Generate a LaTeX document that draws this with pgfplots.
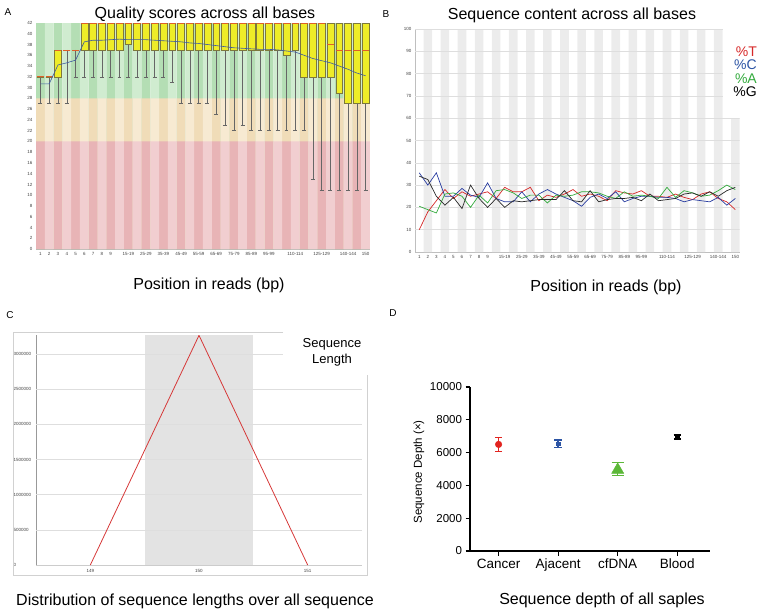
\documentclass[border=0pt]{standalone}
\usepackage{fontspec}
\setmainfont{Liberation Sans}
\usepackage{pgfplots}
\pgfplotsset{compat=1.18}
\usepgfplotslibrary{statistics}

\definecolor{gdark}{RGB}{180,222,180}
\definecolor{glight}{RGB}{208,236,208}
\definecolor{odark}{RGB}{240,220,184}
\definecolor{olight}{RGB}{247,234,210}
\definecolor{rdark}{RGB}{232,180,182}
\definecolor{rlight}{RGB}{241,206,208}
\definecolor{boxy}{RGB}{238,236,40}
\definecolor{boxedge}{RGB}{125,120,60}
\definecolor{medc}{RGB}{222,96,40}
\definecolor{meanc}{RGB}{60,90,160}
\definecolor{tred}{RGB}{214,40,40}
\definecolor{cblue}{RGB}{40,60,160}
\definecolor{agreen}{RGB}{50,170,60}
\definecolor{gblack}{RGB}{40,40,40}
\definecolor{stripe}{RGB}{236,236,236}
\definecolor{gridc}{RGB}{222,222,222}
\definecolor{dred}{RGB}{226,36,32}
\definecolor{dblue}{RGB}{44,84,164}
\definecolor{dgreen}{RGB}{92,184,56}

\pgfplotsset{
  qbox/.style={draw=boxedge, line width=0.5pt,
    boxplot/draw direction=y,
    boxplot/box extend=0.78, boxplot/whisker extend=0.45,
    boxplot/every box/.style={fill=boxy, draw=boxedge},
    boxplot/every median/.style={draw=medc, line width=0.7pt},
    boxplot/every whisker/.style={draw=black!60, line width=0.5pt}},
  tinylab/.style={tick label style={font=\fontsize{4.5}{5}\selectfont, text=black!75},
    /pgf/number format/assume math mode=true},
}
% position, lower whisker, lower quartile, median, upper quartile, upper whisker
\newcommand\qbox[6]{\addplot[qbox, boxplot prepared={draw position=#1,
  lower whisker=#2, lower quartile=#3, median=#4, upper quartile=#5, upper whisker=#6}] coordinates {};}

\begin{document}
\begin{tikzpicture}
\useasboundingbox (0pt,0pt) rectangle (764pt,-613pt);

%% ---------------- A: quality scores
\begin{axis}[
  at={(36pt,-249pt)}, anchor=south west, scale only axis,
  width=334pt, height=226pt,
  xmin=0.5, xmax=38.5, ymin=0, ymax=42,
  axis x line*=bottom, axis y line*=left,
  axis line style={-, draw=black!30, line width=0.4pt},
  major tick length=0pt, tinylab,
  ytick={0,2,...,42},
  xtick={1,2,3,4,5,6,7,8,9,11,13,15,17,19,21,23,25,27,30,33,36,38},
  xticklabels={1,2,3,4,5,6,7,8,9,15-19,25-29,35-39,45-49,55-59,65-69,75-79,85-89,95-99,110-114,125-129,140-144,150},
]
% background bands
\addplot[ybar, bar width=1, bar shift=0pt, fill=gdark, draw=none] coordinates {(1,42)(3,42)(5,42)(7,42)(9,42)(11,42)(13,42)(15,42)(17,42)(19,42)(21,42)(23,42)(25,42)(27,42)(29,42)(31,42)(33,42)(35,42)(37,42)};
\addplot[ybar, bar width=1, bar shift=0pt, fill=glight, draw=none] coordinates {(2,42)(4,42)(6,42)(8,42)(10,42)(12,42)(14,42)(16,42)(18,42)(20,42)(22,42)(24,42)(26,42)(28,42)(30,42)(32,42)(34,42)(36,42)(38,42)};
\addplot[ybar, bar width=1, bar shift=0pt, fill=odark, draw=none] coordinates {(1,28)(3,28)(5,28)(7,28)(9,28)(11,28)(13,28)(15,28)(17,28)(19,28)(21,28)(23,28)(25,28)(27,28)(29,28)(31,28)(33,28)(35,28)(37,28)};
\addplot[ybar, bar width=1, bar shift=0pt, fill=olight, draw=none] coordinates {(2,28)(4,28)(6,28)(8,28)(10,28)(12,28)(14,28)(16,28)(18,28)(20,28)(22,28)(24,28)(26,28)(28,28)(30,28)(32,28)(34,28)(36,28)(38,28)};
\addplot[ybar, bar width=1, bar shift=0pt, fill=rdark, draw=none] coordinates {(1,20)(3,20)(5,20)(7,20)(9,20)(11,20)(13,20)(15,20)(17,20)(19,20)(21,20)(23,20)(25,20)(27,20)(29,20)(31,20)(33,20)(35,20)(37,20)};
\addplot[ybar, bar width=1, bar shift=0pt, fill=rlight, draw=none] coordinates {(2,20)(4,20)(6,20)(8,20)(10,20)(12,20)(14,20)(16,20)(18,20)(20,20)(22,20)(24,20)(26,20)(28,20)(30,20)(32,20)(34,20)(36,20)(38,20)};
% boxes
\qbox{1}{27}{32}{32}{32}{32}
\qbox{2}{27}{32}{32}{32}{32}
\qbox{3}{27}{32}{37}{37}{37}
\qbox{4}{27}{37}{37}{37}{37}
\qbox{5}{32}{37}{37}{37}{37}
\qbox{6}{32}{37}{42}{42}{42}
\qbox{7}{32}{37}{42}{42}{42}
\qbox{8}{32}{37}{42}{42}{42}
\qbox{9}{32}{37}{42}{42}{42}
\qbox{10}{32}{37}{42}{42}{42}
\qbox{11}{32}{38}{42}{42}{42}
\qbox{12}{32}{37}{42}{42}{42}
\qbox{13}{32}{37}{42}{42}{42}
\qbox{14}{32}{37}{42}{42}{42}
\qbox{15}{32}{37}{42}{42}{42}
\qbox{16}{31}{37}{42}{42}{42}
\qbox{17}{27}{37}{42}{42}{42}
\qbox{18}{27}{37}{42}{42}{42}
\qbox{19}{27}{37}{42}{42}{42}
\qbox{20}{27}{37}{42}{42}{42}
\qbox{21}{25}{37}{42}{42}{42}
\qbox{22}{23}{37}{42}{42}{42}
\qbox{23}{22}{37}{42}{42}{42}
\qbox{24}{23}{37}{42}{42}{42}
\qbox{25}{22}{37}{42}{42}{42}
\qbox{26}{22}{37}{42}{42}{42}
\qbox{27}{22}{37}{42}{42}{42}
\qbox{28}{22}{37}{42}{42}{42}
\qbox{29}{22}{36}{42}{42}{42}
\qbox{30}{22}{37}{42}{42}{42}
\qbox{31}{22}{32}{42}{42}{42}
\qbox{32}{13}{32}{42}{42}{42}
\qbox{33}{11}{32}{42}{42}{42}
\qbox{34}{11}{32}{38}{42}{42}
\qbox{35}{11}{29}{37}{42}{42}
\qbox{36}{11}{27}{37}{42}{42}
\qbox{37}{11}{27}{37}{42}{42}
\qbox{38}{11}{27}{37}{42}{42}
% mean
\addplot[meanc, line width=0.6pt] coordinates {
  (1,30.7)(2,30.7)(3,34.2)(4,34.6)(5,35.1)(6,38.5)(7,38.8)(8,38.8)(9,38.9)(10,39.0)
  (11,38.9)(12,38.9)(13,38.9)(14,38.8)(15,38.7)(16,38.6)(17,38.5)(18,38.3)(19,38.2)(20,38.0)
  (21,37.8)(22,37.6)(23,37.4)(24,37.3)(25,37.2)(26,37.1)(27,37.1)(28,37.0)(29,36.8)(30,36.6)
  (31,36.0)(32,35.4)(33,35.0)(34,34.6)(35,34.0)(36,33.4)(37,32.7)(38,32.2)};
\end{axis}

%% ---------------- B: sequence content
\begin{axis}[
  at={(415pt,-252pt)}, anchor=south west, scale only axis,
  width=324.6pt, height=223pt,
  xmin=0.5, xmax=38.5, ymin=0, ymax=100,
  axis x line*=bottom, axis y line*=left,
  axis line style={-, draw=black!25, line width=0.4pt},
  major tick length=0pt, tinylab,
  ytick={0,10,...,100},
  xtick={1,2,3,4,5,6,7,8,9,11,13,15,17,19,21,23,25,27,30,33,36,38},
  xticklabels={1,2,3,4,5,6,7,8,9,15-19,25-29,35-39,45-49,55-59,65-69,75-79,85-89,95-99,110-114,125-129,140-144,150},
]
\addplot[ybar, bar width=1, bar shift=0pt, fill=stripe, draw=none] coordinates {(2,100)(4,100)(6,100)(8,100)(10,100)(12,100)(14,100)(16,100)(18,100)(20,100)(22,100)(24,100)(26,100)(28,100)(30,100)(32,100)(34,100)(36,100)(38,60)};
\addplot[gridc, line width=0.5pt] coordinates {(0.5,10)(38.5,10)};
\addplot[gridc, line width=0.5pt] coordinates {(0.5,20)(38.5,20)};
\addplot[gridc, line width=0.5pt] coordinates {(0.5,30)(38.5,30)};
\addplot[gridc, line width=0.5pt] coordinates {(0.5,40)(38.5,40)};
\addplot[gridc, line width=0.5pt] coordinates {(0.5,50)(38.5,50)};
\addplot[gridc, line width=0.5pt] coordinates {(0.5,60)(38.5,60)};
\addplot[gridc, line width=0.5pt] coordinates {(0.5,70)(36.5,70)};
\addplot[gridc, line width=0.5pt] coordinates {(0.5,80)(36.5,80)};
\addplot[gridc, line width=0.5pt] coordinates {(0.5,90)(36.5,90)};
\addplot[gridc, line width=0.5pt] coordinates {(0.5,100)(36.5,100)};
% %T
\addplot[tred, line width=0.7pt] coordinates {
  (1,10)(2,18)(3,23)(4,28)(5,24)(6,27)(7,25)(8,26)(9,27)(10,24)
  (11,29)(12,27)(13,27)(14,29)(15,23)(16,25.5)(17,24.5)(18,26)(19,28)(20,25)
  (21,26)(22,25)(23,23)(24,27.5)(25,26.5)(26,26)(27,27.5)(28,25)(29,25)(30,24.5)
  (31,26)(32,24.5)(33,23.5)(34,26)(35,27)(36,24)(37,22.5)(38,19)};
% %C
\addplot[cblue, line width=0.7pt] coordinates {
  (1,35.5)(2,30)(3,35.5)(4,25)(5,25)(6,28.5)(7,25.5)(8,24.5)(9,31)(10,24)
  (11,22.5)(12,22.5)(13,27)(14,22.5)(15,26)(16,28)(17,26)(18,24.5)(19,23)(20,20.5)
  (21,24.5)(22,26)(23,24)(24,27)(25,22.5)(26,24)(27,25)(28,25)(29,24.5)(30,24.5)
  (31,24)(32,22.5)(33,23.5)(34,23)(35,22.5)(36,24.5)(37,21)(38,24)};
% %A
\addplot[agreen, line width=0.7pt] coordinates {
  (1,20.5)(2,19)(3,17.5)(4,26)(5,26.5)(6,25)(7,20)(8,25.5)(9,22)(10,27.5)
  (11,28)(12,26.5)(13,24)(14,25.5)(15,25.5)(16,22)(17,25.5)(18,25)(19,25.5)(20,27)
  (21,27)(22,26.5)(23,25)(24,24)(25,27)(26,25)(27,25.5)(28,25)(29,24)(30,29)
  (31,24.5)(32,27.5)(33,26.5)(34,25)(35,25.5)(36,27.5)(37,30)(38,28)};
% %G
\addplot[gblack, line width=0.7pt] coordinates {
  (1,34)(2,32.5)(3,25)(4,21)(5,24.5)(6,19.5)(7,30)(8,24)(9,20)(10,24)
  (11,20)(12,23)(13,22.5)(14,23)(15,23.5)(16,23.5)(17,23.5)(18,27.5)(19,23)(20,22.5)
  (21,27.5)(22,22.5)(23,23.5)(24,24)(25,24)(26,24.5)(27,23)(28,26)(29,23)(30,23.5)
  (31,24)(32,26)(33,26.5)(34,25)(35,27)(36,25)(37,27.5)(38,29)};
\end{axis}

%% ---------------- C: sequence length distribution
\begin{axis}[
  at={(36pt,-565pt)}, anchor=south west, scale only axis,
  width=326pt, height=230pt,
  xmin=148.5, xmax=151.5, ymin=0, ymax=3270000,
  axis x line*=bottom, axis y line*=left,
  x axis line style={-, draw=black!20, line width=0.5pt},
  y axis line style={-, draw=black!40, line width=0.6pt},
  major tick length=0pt, tinylab,
  xtick={149,150,151},
  ytick={0,500000,1000000,1500000,2000000,2500000,3000000},
  scaled y ticks=false,
  yticklabel style={/pgf/number format/fixed, /pgf/number format/1000 sep={}, anchor=west, inner sep=0pt, xshift=-22.5pt},
  xticklabel style={yshift=-1pt},
]
\addplot[ybar, bar width=1, bar shift=0pt, fill=black!11, draw=none] coordinates {(150,3270000)};
\addplot[gridc, line width=0.5pt] coordinates {(148.5,500000)(151.5,500000)};
\addplot[gridc, line width=0.5pt] coordinates {(148.5,1000000)(151.5,1000000)};
\addplot[gridc, line width=0.5pt] coordinates {(148.5,1500000)(151.5,1500000)};
\addplot[gridc, line width=0.5pt] coordinates {(148.5,2000000)(151.5,2000000)};
\addplot[gridc, line width=0.5pt] coordinates {(148.5,2500000)(151.5,2500000)};
\addplot[gridc, line width=0.5pt] coordinates {(148.5,3000000)(150.77,3000000)};
\addplot[color={rgb,255:red,214;green,56;blue,56}, line width=0.8pt] coordinates {(149,0)(150,3265000)(151,0)};
\end{axis}

%% ---------------- D: sequence depth
\begin{axis}[
  at={(470pt,-551pt)}, anchor=south west, scale only axis,
  width=240pt, height=164pt,
  xmin=0.52, xmax=4.55, ymin=0, ymax=10000,
  axis x line*=bottom, axis y line*=left,
  axis line style={-, black, line width=1.4pt},
  tick style={black, line width=1.2pt},
  tick align=outside, major tick length=4.5pt,
  xtick={1,2,3,4}, xticklabels={Cancer,Ajacent,cfDNA,Blood},
  ytick={0,2000,...,10000}, scaled y ticks=false,
  /pgf/number format/assume math mode=true,
  yticklabel style={/pgf/number format/1000 sep={}, font=\fontsize{11.5}{13}\selectfont},
  xticklabel style={font=\fontsize{13.5}{15}\selectfont},
]
\addplot[dred, mark=*, mark size=3.3pt, only marks,
  error bars/.cd, y dir=both, y explicit,
  error bar style={line width=1.3pt, dred},
  error mark options={rotate=90, mark size=3.6pt, line width=1.3pt, dred}]
  coordinates {(1,6500) += (0,430) -= (0,450)};
\addplot[dblue, mark=square*, mark size=1.6pt, only marks,
  error bars/.cd, y dir=both, y explicit,
  error bar style={line width=1.3pt, dblue},
  error mark options={rotate=90, mark size=3.8pt, line width=1.3pt, dblue}]
  coordinates {(2,6550) += (0,220) -= (0,220)};
\addplot[dgreen, mark=triangle*, mark size=7pt, only marks,
  error bars/.cd, y dir=both, y explicit,
  error bar style={line width=1.3pt, dgreen},
  error mark options={rotate=90, mark size=6pt, line width=1.3pt, dgreen}]
  coordinates {(3,4950) += (0,430) -= (0,350)};
\addplot[black, mark=square*, mark size=1.6pt, only marks,
  error bars/.cd, y dir=both, y explicit,
  error bar style={line width=1.3pt, black},
  error mark options={rotate=90, mark size=3.6pt, line width=1.3pt, black}]
  coordinates {(4,6950) += (0,120) -= (0,120)};
\end{axis}

%% ---------------- texts and frames
\begin{scope}[x=1pt, y=-1pt]
\node[font=\fontsize{10}{12}\selectfont] at (8,12) {A};
\node[font=\fontsize{10}{12}\selectfont] at (386,14) {B};
\node[font=\fontsize{10}{12}\selectfont] at (10,315) {C};
\node[font=\fontsize{10}{12}\selectfont] at (393,313) {D};
\node[font=\fontsize{16}{19}\selectfont] at (205,14) {Quality scores across all bases};
\node[font=\fontsize{16}{19}\selectfont] at (572,15) {Sequence content across all bases};
\node[font=\fontsize{16}{19}\selectfont] at (209,285) {Position in reads (bp)};
\node[font=\fontsize{16}{19}\selectfont] at (606,287) {Position in reads (bp)};
\node[font=\fontsize{16}{19}\selectfont] at (195,601) {Distribution of sequence lengths over all sequence};
\node[font=\fontsize{16}{19}\selectfont] at (602,600) {Sequence depth of all saples};
% legend B
\node[anchor=east, inner sep=0pt, text=tred, font=\fontsize{14}{16}\selectfont] at (757,52) {\%T};
\node[anchor=east, inner sep=0pt, text=dblue, font=\fontsize{14}{16}\selectfont] at (757,65) {\%C};
\node[anchor=east, inner sep=0pt, text=agreen, font=\fontsize{14}{16}\selectfont] at (757,78.5) {\%A};
\node[anchor=east, inner sep=0pt, text=black, font=\fontsize{14}{16}\selectfont] at (757,92) {\%G};
% frame and legend C
\draw[black!18, line width=0.6pt] (283,332) -- (13,332) -- (13,575) -- (367,575) -- (367,375);
\node[align=center, font=\fontsize{13}{16}\selectfont] at (332,352) {Sequence\\Length};
% y label D
\node[rotate=90, font=\fontsize{11.5}{13}\selectfont] at (419,472) {Sequence Depth (×)};
\end{scope}
\end{tikzpicture}
\end{document}
